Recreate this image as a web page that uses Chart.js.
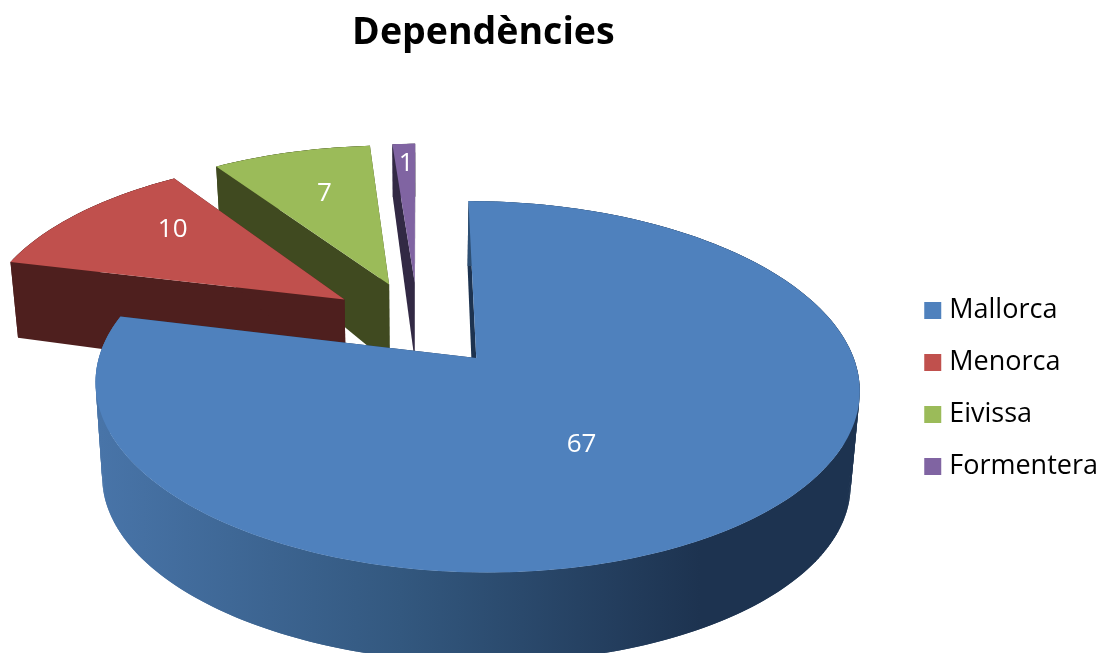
<!DOCTYPE html>
<html>
<head>
<meta charset="utf-8">
<title>Dependències</title>
<script src="https://cdn.jsdelivr.net/npm/chart.js@4"></script>
<style>
    html, body { margin: 0; padding: 0; background: #fff; overflow: hidden; }
    #wrap { width: 1109px; height: 653px; }
</style>
</head>
<body>
<div id="wrap"><canvas id="pieChart" width="1109" height="653"></canvas></div>
<script>
const islands = ['Mallorca', 'Menorca', 'Eivissa', 'Formentera'];
const dependencies = [67, 10, 7, 1];

const topColors = ['#4f81bd', '#c0504d', '#9bbb59', '#8064a2'];
const sideColors = ['#1d3350', '#4e1f1e', '#404a20', '#322944'];

// where each number sits inside its slice: [share of the sweep, share of the radius]
const labelSpots = [[0.53, 0.505], [0.66, 0.705], [0.53, 0.665], [0.55, 0.85]];

const radius = 366.3;
const explode = 0.25;

// view of the tilted pie: origin, squash, perspective, thickness
const camera = { x: 418, y: 323.5, tilt: 0.466, far: 0.15, low: 0.02, depth: 96 };

function project(u, v, h) {
    const w = 1 / (1 + camera.far * v + camera.low * h);
    // the far slices look thinner than the near edge
    const thick = Math.min(camera.depth, 85.5 - 28.5 * v);
    return {
        x: camera.x + radius * u * w,
        y: camera.y - radius * camera.tilt * v * w + thick * h
    };
}

// a point of the slice at angle a and distance r (r = 1 is the rim)
function slicePoint(arc, a, r, h) {
    const mid = (arc.startAngle + arc.endAngle) / 2;
    const shift = arc.options.offset / 4 / arc.outerRadius;
    const u = Math.cos(mid) * shift + Math.cos(a) * r;
    const v = -(Math.sin(mid) * shift + Math.sin(a) * r);
    return project(u, v, h);
}

function rim(arc, h) {
    const steps = Math.max(4, Math.ceil((arc.endAngle - arc.startAngle) * 60));
    const pts = [];
    for (let i = 0; i <= steps; i++) {
        const a = arc.startAngle + (arc.endAngle - arc.startAngle) * i / steps;
        pts.push(slicePoint(arc, a, 1, h));
    }
    return pts;
}

function fillPoly(ctx, pts, fill) {
    ctx.beginPath();
    pts.forEach((p, i) => i ? ctx.lineTo(p.x, p.y) : ctx.moveTo(p.x, p.y));
    ctx.closePath();
    ctx.fillStyle = fill;
    ctx.fill();
}

const pie3d = {
    id: 'pie3d',
    beforeDatasetDraw(chart, args) {
        const ctx = chart.ctx;
        const arcs = args.meta.data;
        const farSide = arc => Math.sin((arc.startAngle + arc.endAngle) / 2);

        // back slices first, the big one goes over the rest
        const order = arcs.map((arc, i) => i).sort((a, b) => farSide(arcs[a]) - farSide(arcs[b]));

        order.forEach(i => {
            const arc = arcs[i];
            const side = sideColors[i];

            [arc.startAngle, arc.endAngle].forEach(a => {
                fillPoly(ctx, [
                    slicePoint(arc, a, 0, 0), slicePoint(arc, a, 1, 0),
                    slicePoint(arc, a, 1, 1), slicePoint(arc, a, 0, 1)
                ], side);
            });

            const wall = ctx.createLinearGradient(100, 0, 850, 0);
            wall.addColorStop(0, i === 0 ? '#4874a8' : side);
            wall.addColorStop(0.4, i === 0 ? '#33587f' : side);
            wall.addColorStop(0.8, side);
            wall.addColorStop(1, side);

            // wall piece by piece, a single ribbon leaves a hole where it folds
            const upper = rim(arc, 0);
            const lower = rim(arc, 1);
            for (let k = 0; k < upper.length - 1; k++) {
                const next = Math.min(k + 2, upper.length - 1);
                fillPoly(ctx, [upper[k], upper[next], lower[next], lower[k]], wall);
            }

            fillPoly(ctx, [slicePoint(arc, 0, 0, 0)].concat(upper), topColors[i]);
        });

        ctx.save();
        ctx.font = '26px "Open Sans"';
        ctx.fillStyle = '#ffffff';
        ctx.textAlign = 'center';
        ctx.textBaseline = 'middle';
        arcs.forEach((arc, i) => {
            const a = arc.startAngle + (arc.endAngle - arc.startAngle) * labelSpots[i][0];
            const p = slicePoint(arc, a, labelSpots[i][1], 0);
            ctx.fillText(String(dependencies[i]), p.x, p.y + 1.5);
        });
        ctx.restore();
        return false;
    }
};

new Chart(document.getElementById('pieChart'), {
    type: 'pie',
    plugins: [pie3d],
    data: {
        labels: islands,
        datasets: [{
            data: dependencies,
            backgroundColor: topColors,
            borderWidth: 0,
            offset: explode * radius * 4
        }]
    },
    options: {
        responsive: false,
        animation: false,
        radius: radius,
        layout: { padding: { left: 62, right: 1 } },
        plugins: {
            tooltip: { enabled: false },
            title: {
                display: true,
                text: 'Dependències',
                fullSize: false,
                color: '#000000',
                font: { family: '"Open Sans"', size: 37.5, weight: 'bold' },
                padding: { top: 11, bottom: 68 }
            },
            legend: {
                position: 'right',
                fullSize: false,
                labels: {
                    color: '#000000',
                    font: { family: '"Open Sans"', size: 27 },
                    boxWidth: 6,
                    boxHeight: 6,
                    padding: 25,
                    generateLabels(chart) {
                        return islands.map((name, i) => ({
                            text: name,
                            fillStyle: topColors[i],
                            strokeStyle: topColors[i],
                            lineWidth: 11,
                            index: i
                        }));
                    }
                }
            }
        }
    }
});
</script>
</body>
</html>
